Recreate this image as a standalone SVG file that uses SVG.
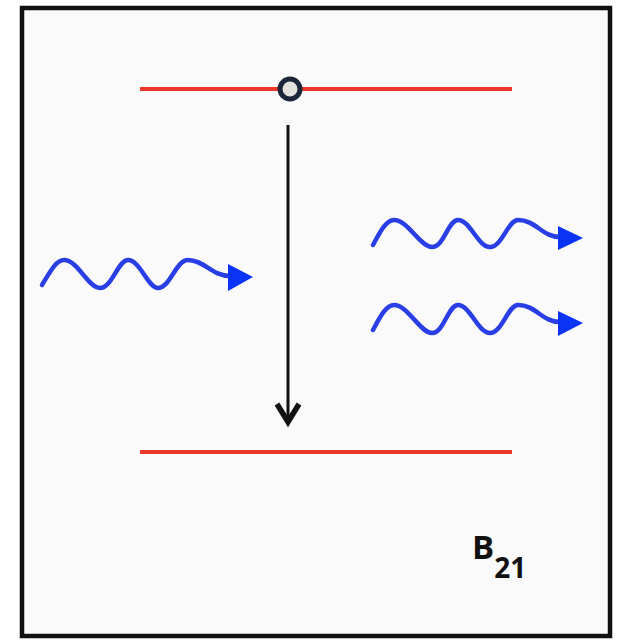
<svg xmlns="http://www.w3.org/2000/svg" width="619" height="642" viewBox="0 0 619 642">
<style>
.lvl{stroke:#e8392b;stroke-width:4;fill:none}
.wave{stroke:#2a3ee6;stroke-width:4.5;fill:none;stroke-linecap:round;stroke-linejoin:round}
.head{fill:#0a33f5}
.lbl{font-family:"Open Sans","Liberation Sans",sans-serif;font-weight:bold;fill:#111}
</style>
<rect x="0" y="0" width="619" height="642" fill="#ffffff"/>
<rect id="frame" x="22" y="8" width="588" height="628" fill="#fafafa" stroke="#111" stroke-width="4.5"/>
<g id="upper-level"><line class="lvl" x1="140" y1="89" x2="512" y2="89"/></g>
<g id="lower-level"><line class="lvl" x1="140" y1="452" x2="512" y2="452"/></g>
<g id="electron"><circle cx="290" cy="89" r="10" fill="#e4e2dc" stroke="#1b2638" stroke-width="5"/></g>
<g id="connectors">
<line x1="288" y1="125" x2="288" y2="420" stroke="#111" stroke-width="3"/>
<path d="M277,404 L288,422 L299,404" fill="none" stroke="#111" stroke-width="5.5" stroke-linejoin="miter"/>
</g>
<g id="photon-in">
<path class="wave" d="M42,285 C50,272 56,260 64,260 C78,260 88,288 100,288 C112,288 118,260 128,260 C140,260 148,288 158,288 C170,288 176,260 188,260 C204,260 212,276 230,276"/>
<polygon class="head" points="228,264 253,277 228,291"/>
</g>
<g id="photon-out-1">
<path class="wave" d="M373,245 C380,232 386,220 394,220 C408,220 420,247 432,247 C444,247 448,220 458,220 C470,220 478,247 490,247 C502,247 508,220 518,220 C536,220 542,237 560,237"/>
<polygon class="head" points="558,226 583,238 558,250"/>
</g>
<g id="photon-out-2">
<path class="wave" d="M373,330 C380,317 386,305 394,305 C408,305 420,333 432,333 C444,333 448,305 458,305 C470,305 478,333 490,333 C502,333 508,305 518,305 C536,305 542,322 560,322"/>
<polygon class="head" points="558,311 583,323 558,336"/>
</g>
<g id="label">
<text class="lbl" x="472" y="559" font-size="33">B<tspan font-size="28" dy="19">21</tspan></text>
</g>
</svg>
